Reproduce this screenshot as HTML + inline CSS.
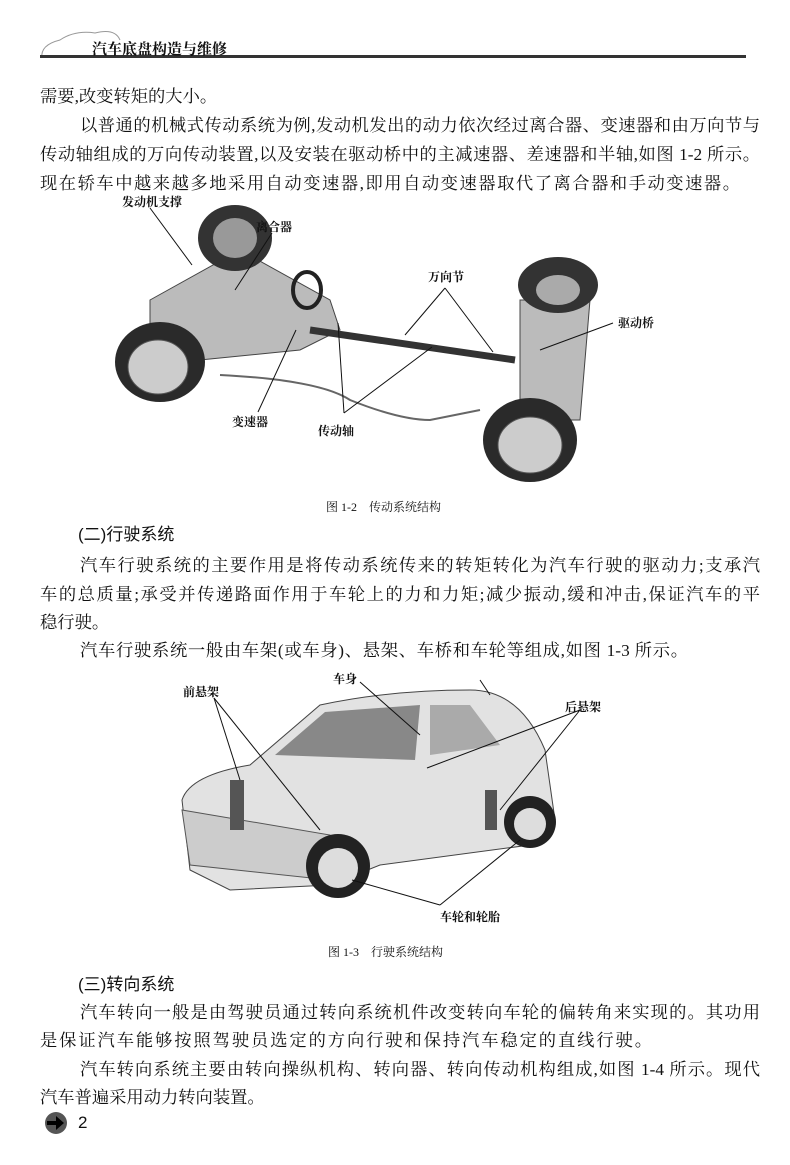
<!DOCTYPE html>
<html><head><meta charset="utf-8"><style>
body{margin:0;background:#fff;}
#p{position:relative;width:790px;height:1165px;overflow:hidden;background:#fff;font-family:"Liberation Serif","Noto Serif CJK SC","Noto Sans CJK SC",serif;color:#111;}
.t{position:absolute;left:40px;width:720px;font-size:17.3px;line-height:20px;white-space:nowrap;text-align:justify;text-align-last:justify;}
.s{text-align-last:auto;}
.h{position:absolute;left:78px;font-size:17px;font-family:"Liberation Sans","Noto Sans CJK SC",sans-serif;}
.cap{position:absolute;font-size:12px;}
.l{position:absolute;font-size:12px;font-weight:bold;}
svg{position:absolute;left:0;top:0;}
</style></head><body><div id="p">
<svg width="790" height="1165">
<path d="M42 58 Q40 45 60 40 Q75 30 95 33 Q115 28 120 40" fill="none" stroke="#999" stroke-width="1"/>
<rect x="40" y="55" width="706" height="3" fill="#333"/>
<!-- fig 1-2 -->
<g>
<path d="M150 300 L240 250 L330 300 L340 330 L300 350 L200 360 L150 340 Z" fill="#bbb" stroke="#444"/>
<path d="M520 300 L590 300 L580 420 L520 420 Z" fill="#bbb" stroke="#444"/>
<line x1="310" y1="330" x2="515" y2="360" stroke="#333" stroke-width="7"/>
<ellipse cx="235" cy="238" rx="37" ry="33" fill="#333"/><ellipse cx="235" cy="238" rx="22" ry="20" fill="#999"/>
<ellipse cx="558" cy="285" rx="40" ry="28" fill="#333"/><ellipse cx="558" cy="290" rx="22" ry="15" fill="#aaa"/>
<ellipse cx="160" cy="362" rx="45" ry="40" fill="#2a2a2a"/><ellipse cx="158" cy="367" rx="30" ry="27" fill="#ccc" stroke="#555"/>
<ellipse cx="530" cy="440" rx="47" ry="42" fill="#2a2a2a"/><ellipse cx="530" cy="445" rx="32" ry="28" fill="#ccc" stroke="#555"/>
<ellipse cx="307" cy="290" rx="14" ry="18" fill="none" stroke="#222" stroke-width="4"/>
<path d="M220 375 Q320 380 350 400 Q400 420 430 420 L480 410" fill="none" stroke="#666" stroke-width="2"/>
<g stroke="#111" stroke-width="1" fill="none">
<line x1="150" y1="208" x2="192" y2="265"/><line x1="272" y1="233" x2="235" y2="290"/>
<line x1="445" y1="288" x2="405" y2="335"/><line x1="445" y1="288" x2="493" y2="352"/>
<line x1="613" y1="323" x2="540" y2="350"/><line x1="258" y1="412" x2="296" y2="330"/>
<line x1="344" y1="413" x2="338" y2="323"/><line x1="344" y1="413" x2="432" y2="347"/>
</g></g>
<!-- fig 1-3 -->
<g>
<path d="M182 800 Q190 775 250 765 L320 705 Q390 690 470 690 Q520 690 545 750 L555 820 L530 845 L380 865 L330 885 L230 890 L190 870 Z" fill="#e2e2e2" stroke="#444"/>
<path d="M275 755 L325 712 L420 705 L415 760 Z" fill="#888"/>
<path d="M430 705 L470 705 L500 745 L430 755 Z" fill="#aaa"/>
<path d="M182 810 L330 835 L330 880 L190 865 Z" fill="#ccc" stroke="#555"/>
<circle cx="338" cy="866" r="32" fill="#222"/><circle cx="338" cy="868" r="20" fill="#ddd"/>
<circle cx="530" cy="822" r="26" fill="#222"/><circle cx="530" cy="824" r="16" fill="#ddd"/>
<rect x="230" y="780" width="14" height="50" fill="#555"/><rect x="485" y="790" width="12" height="40" fill="#555"/>
<g stroke="#111" stroke-width="1" fill="none">
<line x1="214" y1="698" x2="240" y2="780"/><line x1="214" y1="698" x2="320" y2="830"/>
<line x1="360" y1="682" x2="420" y2="735"/><line x1="480" y1="680" x2="490" y2="695"/>
<line x1="580" y1="710" x2="427" y2="768"/><line x1="580" y1="710" x2="500" y2="810"/>
<line x1="440" y1="905" x2="352" y2="880"/><line x1="440" y1="905" x2="520" y2="840"/>
</g></g>
<circle cx="56" cy="1123" r="11" fill="#555"/><path d="M47 1121 L56 1121 L56 1116 L64 1123 L56 1130 L56 1125 L47 1125 Z" fill="#000"/>
</svg>
<div style="position:absolute;left:92px;top:38px;font-size:15px;font-weight:bold;">汽车底盘构造与维修</div>
<div class="t s" style="top:87px">需要,改变转矩的大小。</div>
<div class="t" style="top:116px;left:80px;width:680px">以普通的机械式传动系统为例,发动机发出的动力依次经过离合器、变速器和由万向节与</div>
<div class="t" style="top:145px">传动轴组成的万向传动装置,以及安装在驱动桥中的主减速器、差速器和半轴,如图 1-2 所示。</div>
<div class="t" style="top:174px;width:700px">现在轿车中越来越多地采用自动变速器,即用自动变速器取代了离合器和手动变速器。</div>
<div class="l" style="left:122px;top:193px">发动机支撑</div>
<div class="l" style="left:256px;top:218px">离合器</div>
<div class="l" style="left:428px;top:268px">万向节</div>
<div class="l" style="left:618px;top:314px">驱动桥</div>
<div class="l" style="left:232px;top:413px">变速器</div>
<div class="l" style="left:318px;top:422px">传动轴</div>
<div class="cap" style="left:326px;top:498px">图 1-2　传动系统结构</div>
<div class="h" style="top:520px">(二)行驶系统</div>
<div class="t" style="top:556px;left:80px;width:680px">汽车行驶系统的主要作用是将传动系统传来的转矩转化为汽车行驶的驱动力;支承汽</div>
<div class="t" style="top:585px">车的总质量;承受并传递路面作用于车轮上的力和力矩;减少振动,缓和冲击,保证汽车的平</div>
<div class="t s" style="top:613px">稳行驶。</div>
<div class="t" style="top:641px;left:80px;width:608px">汽车行驶系统一般由车架(或车身)、悬架、车桥和车轮等组成,如图 1-3 所示。</div>
<div class="l" style="left:183px;top:683px">前悬架</div>
<div class="l" style="left:333px;top:670px">车身</div>
<div class="l" style="left:565px;top:698px">后悬架</div>
<div class="l" style="left:440px;top:908px">车轮和轮胎</div>
<div class="cap" style="left:328px;top:943px">图 1-3　行驶系统结构</div>
<div class="h" style="top:970px">(三)转向系统</div>
<div class="t" style="top:1003px;left:80px;width:680px">汽车转向一般是由驾驶员通过转向系统机件改变转向车轮的偏转角来实现的。其功用</div>
<div class="t" style="top:1031px;width:612px">是保证汽车能够按照驾驶员选定的方向行驶和保持汽车稳定的直线行驶。</div>
<div class="t" style="top:1060px;left:80px;width:680px">汽车转向系统主要由转向操纵机构、转向器、转向传动机构组成,如图 1-4 所示。现代</div>
<div class="t s" style="top:1088px">汽车普遍采用动力转向装置。</div>
<div style="position:absolute;left:78px;top:1113px;font-size:17px;font-family:'Liberation Sans',sans-serif;">2</div>
</div></body></html>
